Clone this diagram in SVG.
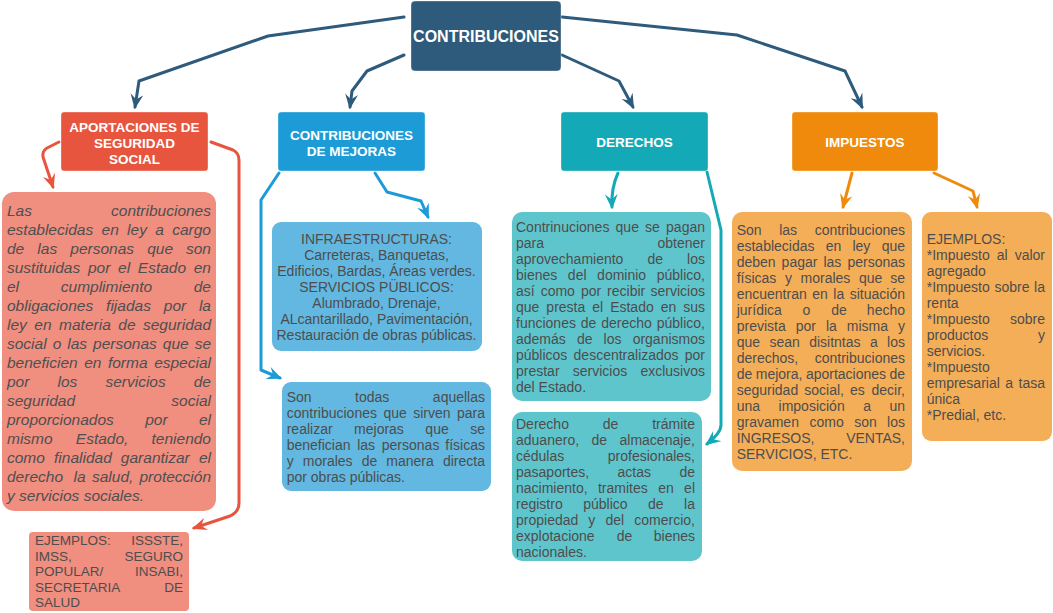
<svg xmlns="http://www.w3.org/2000/svg" width="1053" height="613" viewBox="0 0 1053 613">
<style>
text{font-family:"Liberation Sans",Arial,sans-serif}
.h{font-weight:bold;fill:#fff;font-size:13.5px;text-anchor:middle}
.r{font-weight:bold;fill:#fff;font-size:16px;text-anchor:middle}
.li{font-style:italic;font-size:15.5px;fill:#4f4f4f}
.d{font-size:14px;fill:#4d4d4d}
.s{font-size:13.5px;fill:#4d4d4d}
.c{text-anchor:middle}
.e{text-anchor:end}
.ln{fill:none;stroke-width:3;stroke-linejoin:round;stroke-linecap:round}
.bx{stroke:#fff;stroke-opacity:.35;stroke-width:1}
</style>
<defs>
<marker id="mB" markerUnits="userSpaceOnUse" viewBox="0 0 14 12" markerWidth="15" markerHeight="13" refX="12" refY="6" orient="auto"><path d="M0,0 L14,6 L0,12 L5,6 z" fill="#2e5a7c"/></marker>
<marker id="mR" markerUnits="userSpaceOnUse" viewBox="0 0 14 12" markerWidth="15" markerHeight="13" refX="12" refY="6" orient="auto"><path d="M0,0 L14,6 L0,12 L5,6 z" fill="#e8553e"/></marker>
<marker id="mL" markerUnits="userSpaceOnUse" viewBox="0 0 14 12" markerWidth="15" markerHeight="13" refX="12" refY="6" orient="auto"><path d="M0,0 L14,6 L0,12 L5,6 z" fill="#1c9bd6"/></marker>
<marker id="mT" markerUnits="userSpaceOnUse" viewBox="0 0 14 12" markerWidth="15" markerHeight="13" refX="12" refY="6" orient="auto"><path d="M0,0 L14,6 L0,12 L5,6 z" fill="#14a9b6"/></marker>
<marker id="mO" markerUnits="userSpaceOnUse" viewBox="0 0 14 12" markerWidth="15" markerHeight="13" refX="12" refY="6" orient="auto"><path d="M0,0 L14,6 L0,12 L5,6 z" fill="#f08a0c"/></marker>
</defs>
<rect width="1053" height="613" fill="#fff"/>

<g id="connectors">
<path class="ln" stroke="#2e5a7c" marker-end="url(#mB)" d="M404,17 L268,36 L139,81 L135,107"/>
<path class="ln" stroke="#2e5a7c" marker-end="url(#mB)" d="M404,55 L367,71 L352,91 L350,107"/>
<path class="ln" stroke="#2e5a7c" marker-end="url(#mB)" d="M562,55 L619,81 L633,107"/>
<path class="ln" stroke="#2e5a7c" marker-end="url(#mB)" d="M562,17 L737,35 L845,71 L862,107"/>
<path class="ln" stroke="#e8553e" marker-end="url(#mR)" d="M59,142 L47,148 Q42,151 43,157 L53,187"/>
<path class="ln" stroke="#e8553e" marker-end="url(#mR)" d="M211,142 L233,150 Q239,153 239,160 L239,503 Q239,512 230,516 L194,528"/>
<path class="ln" stroke="#1c9bd6" marker-end="url(#mL)" d="M279,173 L261,200 L261,370 L280,378"/>
<path class="ln" stroke="#1c9bd6" marker-end="url(#mL)" d="M375,173 L387,192 L421,201 L428,217"/>
<path class="ln" stroke="#14a9b6" marker-end="url(#mT)" d="M618,173 Q611,188 612,207"/>
<path class="ln" stroke="#14a9b6" marker-end="url(#mT)" d="M707,172 L721,230 L721,425 Q721,433 707,444"/>
<path class="ln" stroke="#f08a0c" marker-end="url(#mO)" d="M852,173 L843,207"/>
<path class="ln" stroke="#f08a0c" marker-end="url(#mO)" d="M934,173 L973,191 L977,207"/>
</g>

<g id="root">
<rect class="bx" x="411" y="1" width="150" height="70" rx="4" fill="#2e5a7c"/>
<text class="r" x="486" y="42">CONTRIBUCIONES</text>
</g>

<g id="aportaciones">
<rect class="bx" x="61" y="112" width="147" height="59" rx="3" fill="#e8553e"/>
<text class="h" x="134.5" y="131.5">APORTACIONES DE</text>
<text class="h" x="134.5" y="147.5">SEGURIDAD</text>
<text class="h" x="134.5" y="163.5">SOCIAL</text>
</g>

<g id="mejoras">
<rect class="bx" x="278" y="112" width="147" height="59" rx="3" fill="#1c9bd6"/>
<text class="h" x="351.5" y="139.5">CONTRIBUCIONES</text>
<text class="h" x="351.5" y="155.5">DE MEJORAS</text>
</g>

<g id="derechos">
<rect class="bx" x="561" y="112" width="147" height="59" rx="3" fill="#14a9b6"/>
<text class="h" x="634.5" y="147">DERECHOS</text>
</g>

<g id="impuestos">
<rect class="bx" x="792" y="112" width="146" height="59" rx="3" fill="#f08a0c"/>
<text class="h" x="865" y="147">IMPUESTOS</text>
</g>

<g id="aportaciones-desc">
<rect x="2" y="192" width="214" height="319" rx="12" fill="#f08e80"/>
<text class="li" x="7" y="215.5">Las</text><text class="li e" x="211" y="215.5">contribuciones</text>
<text class="li" x="7" y="234.5" style="word-spacing:4.05px">establecidas en ley a</text><text class="li e" x="211" y="234.5">cargo</text>
<text class="li" x="7" y="253.5" style="word-spacing:8.8px">de las personas que</text><text class="li e" x="211" y="253.5">son</text>
<text class="li" x="7" y="272.5" style="word-spacing:3.4px">sustituidas por el Estado</text><text class="li e" x="211" y="272.5">en</text>
<text class="li" x="7" y="291.5" style="word-spacing:37.4px">el cumplimiento</text><text class="li e" x="211" y="291.5">de</text>
<text class="li" x="7" y="310.5" style="word-spacing:8.6px">obligaciones fijadas por</text><text class="li e" x="211" y="310.5">la</text>
<text class="li" x="7" y="329.5" style="word-spacing:3.2px">ley en materia de</text><text class="li e" x="211" y="329.5">seguridad</text>
<text class="li" x="7" y="348.5" style="word-spacing:1.7px">social o las personas que</text><text class="li e" x="211" y="348.5">se</text>
<text class="li" x="7" y="367.5" style="word-spacing:2.2px">beneficien en forma</text><text class="li e" x="211" y="367.5">especial</text>
<text class="li" x="7" y="386.5" style="word-spacing:23.8px">por los servicios</text><text class="li e" x="211" y="386.5">de</text>
<text class="li" x="7" y="405.5">seguridad</text><text class="li e" x="211" y="405.5">social</text>
<text class="li" x="7" y="424.5" style="word-spacing:27px">proporcionados por</text><text class="li e" x="211" y="424.5">el</text>
<text class="li" x="7" y="443.5" style="word-spacing:18.9px">mismo Estado,</text><text class="li e" x="211" y="443.5">teniendo</text>
<text class="li" x="7" y="462.5" style="word-spacing:4.8px">como finalidad garantizar</text><text class="li e" x="211" y="462.5">el</text>
<text class="li" x="7" y="481.5" style="word-spacing:2px">derecho<tspan dx="4.3"> la salud,</tspan></text><text class="li e" x="211" y="481.5">protección</text>
<text class="li" x="7" y="500.5">y servicios sociales.</text>
</g>

<g id="aportaciones-ejemplos">
<rect x="29" y="532" width="160" height="79" rx="4" fill="#f08e80"/>
<text class="s" x="35" y="545">EJEMPLOS:</text><text class="s e" x="183" y="545">ISSSTE,</text>
<text class="s" x="35" y="560.5">IMSS,</text><text class="s e" x="183" y="560.5">SEGURO</text>
<text class="s" x="35" y="576">POPULAR/</text><text class="s e" x="183" y="576">INSABI,</text>
<text class="s" x="35" y="591.5">SECRETARIA</text><text class="s e" x="183" y="591.5">DE</text>
<text class="s" x="35" y="607">SALUD</text>
</g>

<g id="mejoras-ejemplos">
<rect x="272" y="222" width="210" height="129" rx="9" fill="#62b8e0"/>
<text class="d c" x="376.5" y="244">INFRAESTRUCTURAS:</text>
<text class="d c" x="376.5" y="260">Carreteras, Banquetas,</text>
<text class="d c" x="376.5" y="276">Edificios, Bardas, Áreas verdes.</text>
<text class="d c" x="376.5" y="292">SERVICIOS PÜBLICOS:</text>
<text class="d c" x="376.5" y="308">Alumbrado, Drenaje,</text>
<text class="d c" x="376.5" y="324">ALcantarillado, Pavimentación,</text>
<text class="d c" x="376.5" y="340">Restauración de obras públicas.</text>
</g>

<g id="mejoras-desc">
<rect x="282" y="382" width="209" height="109" rx="9" fill="#62b8e0"/>
<text class="d" x="286.7" y="402.3" style="word-spacing:39.6px">Son todas</text><text class="d e" x="485" y="402.3">aquellas</text>
<text class="d" x="286.7" y="418.3" style="word-spacing:2.56px">contribuciones que sirven</text><text class="d e" x="485" y="418.3">para</text>
<text class="d" x="286.7" y="434.3" style="word-spacing:17.6px">realizar mejoras que</text><text class="d e" x="485" y="434.3">se</text>
<text class="d" x="286.7" y="450.3" style="word-spacing:2.8px">benefician las personas</text><text class="d e" x="485" y="450.3">físicas</text>
<text class="d" x="286.7" y="466.3" style="word-spacing:5.2px">y morales de manera</text><text class="d e" x="485" y="466.3">directa</text>
<text class="d" x="286.7" y="482.3">por obras públicas.</text>
</g>

<g id="derechos-desc">
<rect x="512" y="212" width="199" height="189" rx="10" fill="#5fc5cc"/>
<text class="d" x="516" y="231.5" style="word-spacing:2.3px">Contrinuciones que se</text><text class="d e" x="705" y="231.5">pagan</text>
<text class="d" x="516" y="247.5">para</text><text class="d e" x="705" y="247.5">obtener</text>
<text class="d" x="516" y="263.5" style="word-spacing:20.2px">aprovechamiento de</text><text class="d e" x="705" y="263.5">los</text>
<text class="d" x="516" y="279.5" style="word-spacing:6.7px">bienes del dominio</text><text class="d e" x="705" y="279.5">público,</text>
<text class="d" x="516" y="295.5" style="word-spacing:2.1px">así como por recibir</text><text class="d e" x="705" y="295.5">servicios</text>
<text class="d" x="516" y="311.5" style="word-spacing:3.1px">que presta el Estado en</text><text class="d e" x="705" y="311.5">sus</text>
<text class="d" x="516" y="327.5" style="word-spacing:1px">funciones de derecho</text><text class="d e" x="705" y="327.5">público,</text>
<text class="d" x="516" y="343.5" style="word-spacing:7.2px">además de los</text><text class="d e" x="705" y="343.5">organismos</text>
<text class="d" x="516" y="359.5" style="word-spacing:2.3px">públicos descentralizados</text><text class="d e" x="705" y="359.5">por</text>
<text class="d" x="516" y="375.5" style="word-spacing:9.3px">prestar servicios</text><text class="d e" x="705" y="375.5">exclusivos</text>
<text class="d" x="516" y="391.5">del Estado.</text>
</g>

<g id="derechos-ejemplos">
<rect x="512" y="412" width="190" height="149" rx="10" fill="#5fc5cc"/>
<text class="d" x="516" y="428.5" style="word-spacing:30px">Derecho de</text><text class="d e" x="695" y="428.5">trámite</text>
<text class="d" x="516" y="444.5" style="word-spacing:8.5px">aduanero, de</text><text class="d e" x="695" y="444.5">almacenaje,</text>
<text class="d" x="516" y="460.5">cédulas</text><text class="d e" x="695" y="460.5">profesionales,</text>
<text class="d" x="516" y="476.5" style="word-spacing:24.5px">pasaportes, actas</text><text class="d e" x="695" y="476.5">de</text>
<text class="d" x="516" y="492.5" style="word-spacing:6.5px">nacimiento, tramites en</text><text class="d e" x="695" y="492.5">el</text>
<text class="d" x="516" y="508.5" style="word-spacing:16.6px">registro público de</text><text class="d e" x="695" y="508.5">la</text>
<text class="d" x="516" y="524.5" style="word-spacing:6.2px">propiedad y del</text><text class="d e" x="695" y="524.5">comercio,</text>
<text class="d" x="516" y="540.5" style="word-spacing:18.3px">explotacione de</text><text class="d e" x="695" y="540.5">bienes</text>
<text class="d" x="516" y="556.5">nacionales.</text>
</g>

<g id="impuestos-desc">
<rect x="732" y="212" width="180" height="259" rx="10" fill="#f5ae58"/>
<text class="d" x="736.7" y="235" style="word-spacing:13.7px">Son las</text><text class="d e" x="905" y="235">contribuciones</text>
<text class="d" x="736.7" y="251" style="word-spacing:7.3px">establecidas en ley</text><text class="d e" x="905" y="251">que</text>
<text class="d" x="736.7" y="267" style="word-spacing:2.1px">deben pagar las</text><text class="d e" x="905" y="267">personas</text>
<text class="d" x="736.7" y="283" style="word-spacing:4.7px">físicas y morales que</text><text class="d e" x="905" y="283">se</text>
<text class="d" x="736.7" y="299" style="word-spacing:1.6px">encuentran en la</text><text class="d e" x="905" y="299">situación</text>
<text class="d" x="736.7" y="315" style="word-spacing:16.9px">jurídica o de</text><text class="d e" x="905" y="315">hecho</text>
<text class="d" x="736.7" y="331" style="word-spacing:6.1px">prevista por la misma</text><text class="d e" x="905" y="331">y</text>
<text class="d" x="736.7" y="347" style="word-spacing:5.5px">que sean disitntas a</text><text class="d e" x="905" y="347">los</text>
<text class="d" x="736.7" y="363">derechos,</text><text class="d e" x="905" y="363">contribuciones</text>
<text class="d" x="736.7" y="379" style="word-spacing:-0.4px">de mejora, aportaciones</text><text class="d e" x="905" y="379">de</text>
<text class="d" x="736.7" y="395" style="word-spacing:2.2px">seguridad social, es</text><text class="d e" x="905" y="395">decir,</text>
<text class="d" x="736.7" y="411" style="word-spacing:14.6px">una imposición a</text><text class="d e" x="905" y="411">un</text>
<text class="d" x="736.7" y="427" style="word-spacing:6.6px">gravamen como son</text><text class="d e" x="905" y="427">los</text>
<text class="d" x="736.7" y="443">INGRESOS,</text><text class="d e" x="905" y="443">VENTAS,</text>
<text class="d" x="736.7" y="459">SERVICIOS, ETC.</text>
</g>

<g id="impuestos-ejemplos">
<rect x="922" y="212" width="130" height="229" rx="9" fill="#f5ae58"/>
<text class="d" x="926.7" y="244.3">EJEMPLOS:</text>
<text class="d" x="926.7" y="260.3" style="word-spacing:3.1px">*Impuesto al</text><text class="d e" x="1045" y="260.3">valor</text>
<text class="d" x="926.7" y="276.3">agregado</text>
<text class="d" x="926.7" y="292.3" style="word-spacing:0.8px">*Impuesto sobre</text><text class="d e" x="1045" y="292.3">la</text>
<text class="d" x="926.7" y="308.3">renta</text>
<text class="d" x="926.7" y="324.3">*Impuesto</text><text class="d e" x="1045" y="324.3">sobre</text>
<text class="d" x="926.7" y="340.3">productos</text><text class="d e" x="1045" y="340.3">y</text>
<text class="d" x="926.7" y="356.3">servicios.</text>
<text class="d" x="926.7" y="372.3">*Impuesto</text>
<text class="d" x="926.7" y="388.3" style="word-spacing:1.6px">empresarial a</text><text class="d e" x="1045" y="388.3">tasa</text>
<text class="d" x="926.7" y="404.3">única</text>
<text class="d" x="926.7" y="420.3">*Predial, etc.</text>
</g>
</svg>
